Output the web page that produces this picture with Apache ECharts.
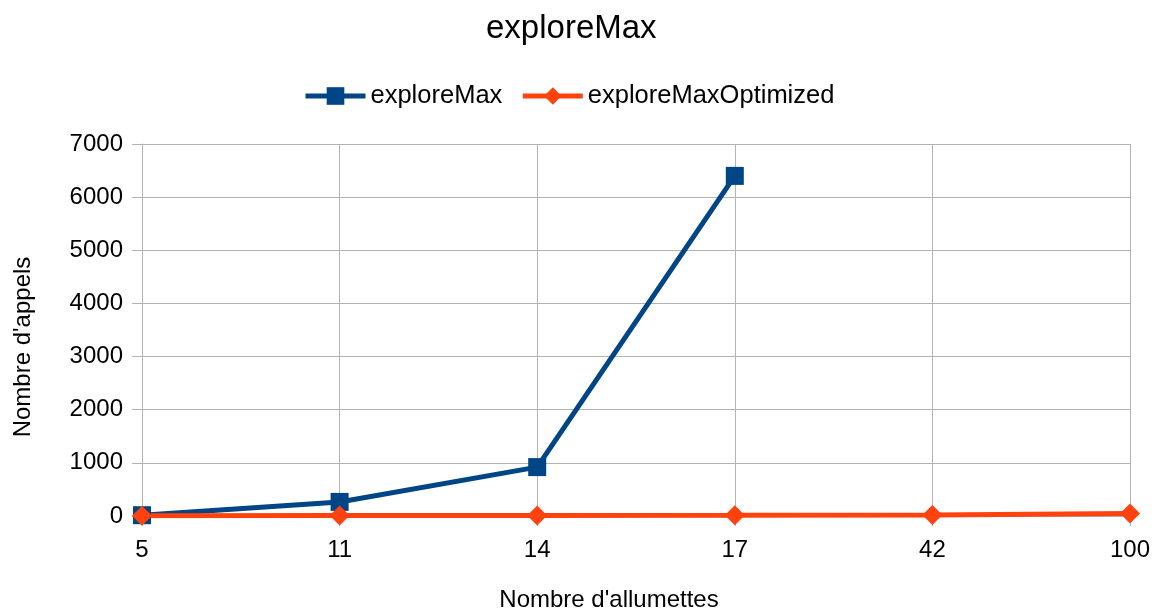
<!DOCTYPE html>
<html>
<head>
<meta charset="utf-8">
<script src="https://cdn.jsdelivr.net/npm/echarts@6/dist/echarts.min.js"></script>
<style>
html,body{margin:0;padding:0;background:#fff;}
#chart{width:1164px;height:615px;}
</style>
</head>
<body>
<div id="chart"></div>
<script>
// Number of matches (x) and number of calls for each algorithm (y)
const categories = ['5', '11', '14', '17', '42', '100'];
const exploreMax = [15, 265, 920, 6400, null, null];
const exploreMaxOptimized = [5, 8, 10, 12, 20, 45];

const FONT = '"Liberation Sans", Arial, sans-serif';
const GRID_COLOR = '#b3b3b3';
const chart = echarts.init(document.getElementById('chart'));
chart.setOption({
  animation: false,
  title: {
    text: 'exploreMax', left: 481, top: 7,
    textStyle: { fontFamily: FONT, fontSize: 33, fontWeight: 'normal', color: '#000' }
  },
  legend: {
    top: 78, left: 298, itemWidth: 60, itemHeight: 22, itemGap: 18,
    lineStyle: { width: 5 },
    textStyle: { fontFamily: FONT, fontSize: 25.5, color: '#000' },
    data: ['exploreMax', 'exploreMaxOptimized']
  },
  grid: { left: 142, right: 34, top: 144, bottom: 99, containLabel: false, outerBoundsMode: 'none' },
  xAxis: {
    type: 'category', data: categories, boundaryGap: false,
    name: "Nombre d'allumettes", nameLocation: 'middle', nameGap: 72,
    nameTextStyle: { fontFamily: FONT, fontSize: 24, color: '#000', padding: [0, 54, 0, 0] },
    axisLine: { show: true, lineStyle: { color: GRID_COLOR, width: 1 } },
    axisTick: { show: true, length: 10, alignWithLabel: true, lineStyle: { color: GRID_COLOR } },
    axisLabel: { fontFamily: FONT, fontSize: 24, color: '#000', margin: 22 },
    splitLine: { show: true, lineStyle: { color: GRID_COLOR, width: 1 } }
  },
  yAxis: {
    type: 'value', min: 0, max: 7000, interval: 1000,
    name: "Nombre d'appels", nameLocation: 'middle', nameGap: 107, nameRotate: 90,
    nameTextStyle: { fontFamily: FONT, fontSize: 24, color: '#000', padding: [0, 34, 0, 0] },
    axisLine: { show: true, lineStyle: { color: GRID_COLOR, width: 1 } },
    axisTick: { show: true, length: 10, lineStyle: { color: GRID_COLOR } },
    axisLabel: { fontFamily: FONT, fontSize: 24, color: '#000', margin: 19, formatter: v => String(v) },
    splitLine: { show: true, lineStyle: { color: GRID_COLOR, width: 1 } }
  },
  series: [
    {
      name: 'exploreMax', type: 'line', data: exploreMax,
      symbol: 'rect', symbolSize: 18, connectNulls: false,
      lineStyle: { color: '#004586', width: 5 },
      itemStyle: { color: '#004586' }
    },
    {
      name: 'exploreMaxOptimized', type: 'line', data: exploreMaxOptimized,
      symbol: 'diamond', symbolSize: 20, z: 3,
      lineStyle: { color: '#ff420e', width: 5 },
      itemStyle: { color: '#ff420e' }
    }
  ]
});
</script>
</body>
</html>
